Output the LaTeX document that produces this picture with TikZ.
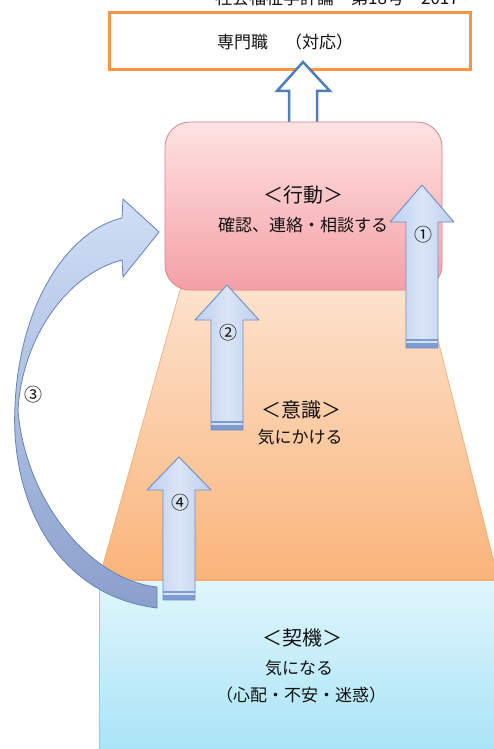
\documentclass[tikz,border=0pt]{standalone}
\usepackage{fontspec}
\setmainfont{Noto Sans CJK JP}
\definecolor{orangeedge}{HTML}{F79646}
\definecolor{hollowedge}{HTML}{4F7EBB}
\definecolor{pinktop}{HTML}{FFE2E2}
\definecolor{pinkbot}{HTML}{F4A0A6}
\definecolor{pinkedge}{HTML}{D7868B}
\definecolor{peachtop}{HTML}{FDE3CF}
\definecolor{peachbot}{HTML}{FAB47A}
\definecolor{peachedge}{HTML}{F3A86E}
\definecolor{cyantop}{HTML}{E0F6FC}
\definecolor{cyanbot}{HTML}{A6E3F6}
\definecolor{cyanedge}{HTML}{8FD0E2}
\definecolor{arrowedge}{HTML}{6C8EC6}
\definecolor{arrowside}{HTML}{BDD0EE}
\definecolor{arrowmid}{HTML}{DAE5F6}
\definecolor{stripedark}{HTML}{7E9CD0}
\definecolor{stripelight}{HTML}{D5E1F5}
\definecolor{curvetop}{HTML}{D0DFF6}
\definecolor{curvebot}{HTML}{8A9FCB}
\definecolor{curveedge}{HTML}{6382BD}
\definecolor{txt}{HTML}{111111}
\newcommand{\blockup}[6]{%
  \path[blockarrow] ({#2-16},#5) -- ({#2-16},#4) -- ({#2-32},#4) -- (#2,#3) -- ({#2+32},#4) -- ({#2+16},#4) -- ({#2+16},#5) -- cycle;
  \fill[stripedark] ({#2-16},{#5-9}) rectangle ({#2+16},#5);
  \draw[stripelight, line width=1.5pt] ({#2-16},{#5-6}) -- ({#2+16},{#5-6});
  \draw[arrowedge, line width=0.9pt, line join=round] ({#2-16},#5) -- ({#2-16},#4) -- ({#2-32},#4) -- (#2,#3) -- ({#2+32},#4) -- ({#2+16},#4) -- ({#2+16},#5) -- cycle;
  \node[num] (#1) at ({#2+1},{#4+13}) {#6};
}
\begin{document}
\begin{tikzpicture}[x=1pt,y=-1pt,
  lbl/.style={font=\fontsize{17}{20}\selectfont, inner sep=0, text=txt},
  headtxt/.style={font=\fontsize{20}{24}\selectfont, inner sep=0, text=txt},
  num/.style={font=\fontsize{18}{20}\selectfont, inner sep=0, text=txt},
  blockarrow/.style={left color=arrowside, right color=arrowside, middle color=arrowmid}]
\useasboundingbox (0,0) rectangle (494,749);

% cut-off running header (cut by the page edge as in the reference)
\node[lbl, anchor=base west] (journal) at (215,5) {社会福祉学評論　第18号　2017};

% professional box
\node[draw=orangeedge, line width=3pt, fill=white, minimum width=361pt, minimum height=57pt, inner sep=0] (pro) at (290,41) {};
\node[lbl] (protext) at (285,42) {専門職　（対応）};

% hollow arrow to professional
\draw[hollowedge, line width=2.5pt, fill=white, line join=miter] (289,124) -- (289,91) -- (277,91) -- (303,62) -- (330,91) -- (317,91) -- (317,124);

% trapezoid (awareness)
\path[draw=peachedge, line width=0.6pt, top color=peachtop, bottom color=peachbot] (182.8,280) -- (423,280) -- (498.5,580) -- (98.7,580) -- cycle;

% trigger box
\path[draw=cyanedge, line width=0.8pt, top color=cyantop, bottom color=cyanbot] (99,580) rectangle (500,760);
\draw[peachedge, line width=1pt] (98.7,580) -- (498.5,580);

% action box
\node[draw=pinkedge, line width=0.8pt, rounded corners=25pt, top color=pinktop, bottom color=pinkbot, minimum width=277pt, minimum height=168pt, inner sep=0] (act) at (303.5,206) {};

% texts
\node[headtxt] (acthead) at (303,195) {＜行動＞};
\node[lbl] (actsub) at (303,225) {確認、連絡・相談する};
\node[headtxt] (awhead) at (301,410) {＜意識＞};
\node[lbl] (awsub) at (300,437) {気にかける};
\node[headtxt] (trhead) at (302,638) {＜契機＞};
\node[lbl] (trsub1) at (299,668) {気になる};
\node[lbl] (trsub2) at (301,695) {（心配・不安・迷惑）};

% block arrows
\blockup{n1}{422}{185}{222}{348}{①}
\blockup{n2}{227}{285}{320}{430}{②}
\blockup{n4}{179}{457}{490}{600}{④}

% curved arrow 3
\path[draw=curveedge, line width=0.8pt, line join=round, top color=curvetop, bottom color=curvebot]
  (157,608) .. controls (55,595) and (10,500) .. (15,405)
  .. controls (20,300) and (70,230) .. (122,218)
  -- (123,199) -- (159,232) -- (123,277) -- (122,260)
  .. controls (65,275) and (22,340) .. (18,410)
  .. controls (25,500) and (90,580) .. (157,587) -- cycle;
\node[num] (n3) at (33,395) {③};
\end{tikzpicture}
\end{document}
